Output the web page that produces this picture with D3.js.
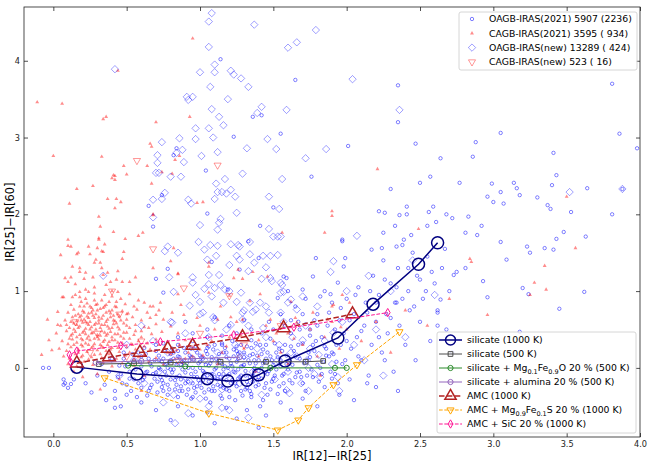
<!DOCTYPE html>
<html>
<head>
<meta charset="utf-8">
<script src="https://cdn.jsdelivr.net/npm/d3@7"></script>
<style>
body { margin: 0; background: #fff; }
text { font-family: "DejaVu Sans", sans-serif; }
</style>
</head>
<body>
<div id="chart"></div>
<script>
// tick values
const xTicks = [0, 0.5, 1, 1.5, 2, 2.5, 3, 3.5, 4];
const yTicks = [0, 1, 2, 3, 4];

const oagbOld = [
  [-0.03,0.0],[-0.07,0.0],[0.07,-0.15],[0.12,-0.21],[0.07,-0.22],[0.08,-0.2],[0.1,-0.26],[0.14,-0.15],[0.2,0.0],[0.22,-0.2],[0.26,-0.32],[0.3,-0.1],[0.33,0.05],[0.35,-0.22],[0.36,-0.42],[0.38,-0.05],[0.4,0.12],[0.42,-0.3],[0.42,-0.4],[0.42,-0.52],[0.44,-0.12],[0.45,0.03],[0.46,-0.5],[0.47,-0.2],[0.48,0.2],[0.5,-0.35],
  [0.52,-0.05],[0.55,0.1],[0.58,-0.2],[0.6,0.02],[0.62,-0.12],[0.63,0.18],[0.65,-0.3],[0.66,0.06],[0.68,-0.08],[0.7,0.22],[0.71,-0.18],[0.72,0.0],[0.74,-0.25],[0.75,0.12],[0.76,-0.05],[0.78,-0.35],[0.79,0.08],[0.8,-0.15],[0.81,0.25],[0.82,-0.02],[0.84,-0.22],[0.85,0.15],[0.86,-0.1],[0.87,0.04],[0.88,-0.3],[0.9,0.2],[0.9,-0.06],[0.92,-0.18],[0.93,0.1],[0.94,-0.4],[0.95,0.0],[0.96,-0.26],[0.97,0.28],[0.98,-0.12],[0.99,0.06],
  [1.0,-0.2],[1.01,0.14],[1.02,-0.04],[1.03,-0.32],[1.04,0.22],[1.05,-0.1],[1.06,0.03],[1.07,-0.45],[1.08,0.1],[1.09,-0.24],[1.1,0.3],[1.1,-0.02],[1.12,-0.15],[1.13,0.18],[1.14,-0.36],[1.15,0.05],[1.16,-0.08],[1.17,0.26],[1.18,-0.28],[1.19,0.0],[1.2,0.12],[1.21,-0.2],[1.22,0.35],[1.23,-0.05],[1.24,-0.42],[1.25,0.08],[1.26,-0.14],[1.27,0.2],[1.28,-0.3],[1.29,0.02],[1.3,0.14],[1.31,-0.1],[1.32,0.28],[1.33,-0.22],[1.34,0.06],[1.35,-0.38],[1.36,0.18],[1.37,-0.04],[1.38,0.32],[1.39,-0.16],[1.4,0.1],[1.41,-0.5],[1.42,0.0],[1.43,0.24],[1.44,-0.26],[1.45,0.12],[1.46,-0.08],[1.48,0.38],[1.49,-0.18],[1.5,0.04],[1.52,0.2],[1.53,-0.34],[1.55,0.1],[1.56,-0.1],[1.58,0.3],[1.6,-0.02],
  [0.55,-0.15],[0.6,0.15],[0.64,-0.05],[0.67,-0.22],[0.69,0.1],[0.73,-0.12],[0.77,0.05],[0.8,0.18],[0.83,-0.28],[0.87,-0.15],[0.89,0.1],[0.91,-0.35],[0.94,0.25],[0.97,-0.05],[1.0,0.08],[1.03,-0.12],[1.06,0.28],[1.08,-0.3],[1.11,0.12],[1.13,-0.08],[1.16,0.2],[1.18,-0.16],[1.2,-0.38],[1.23,0.15],[1.26,-0.02],[1.28,0.3],[1.31,-0.28],[1.34,-0.12],[1.37,0.1],[1.4,-0.22],[1.43,0.06],[1.46,-0.35],[1.48,0.15],[1.51,-0.1],[1.54,0.25],[1.57,-0.2],[1.59,0.05],[1.62,0.28],[1.65,-0.12],[1.68,0.12],[1.7,-0.2],[1.74,0.2],[1.76,-0.02],[1.79,0.35],[1.81,-0.18],[1.84,0.08],[1.86,0.25],[1.89,-0.05],[1.91,0.18],[1.94,-0.2],[1.96,0.3],[1.99,0.1],[0.75,0.32],[0.85,0.3],[0.95,0.35],[1.05,0.4],[1.15,0.32],[1.25,0.28],[1.35,0.36],[1.45,0.3],
  [0.46,-0.08],[0.48,0.12],[0.5,-0.22],[0.51,0.05],[0.53,-0.3],[0.54,0.18],[0.56,-0.02],[0.57,-0.38],[0.59,0.08],[0.61,-0.16],[0.62,0.26],[0.63,-0.06],[0.65,0.12],[0.66,-0.26],[0.67,0.02],[0.69,-0.14],[0.7,0.3],[0.71,-0.32],[0.72,0.16],[0.73,-0.02],[0.74,0.08],[0.75,-0.2],[0.76,0.22],[0.77,-0.1],[0.78,0.0],[0.79,-0.28],[0.8,0.1],[0.81,-0.06],[0.82,0.2],[0.83,-0.16],[0.84,0.04],[0.85,-0.38],[0.86,0.14],[0.87,-0.24],[0.88,-0.02],[0.89,0.26],[0.9,-0.14],[0.91,0.06],[0.92,-0.28],[0.93,0.16],[0.94,-0.08],[0.95,-0.2],[0.96,0.1],[0.97,-0.32],[0.98,0.2],[0.99,-0.16],[1.0,0.0],[1.01,-0.26],[1.02,0.12],[1.03,-0.06],[1.04,-0.4],[1.05,0.18],[1.06,-0.18],[1.07,0.06],[1.08,-0.08],[1.09,0.24],[1.1,-0.3],[1.11,0.0],[1.12,-0.22],[1.13,0.1],[1.14,-0.12],[1.15,0.3],[1.16,-0.26],[1.17,0.02],[1.18,0.14],[1.19,-0.1],[1.2,-0.3],[1.21,0.06],[1.22,-0.16],[1.23,0.24],[1.24,-0.06],[1.25,-0.24],[1.26,0.12],[1.27,-0.12],[1.28,0.02],[1.29,-0.36],[1.3,0.2],[1.31,-0.04],[1.32,-0.18],[1.33,0.1],[1.34,-0.3],[1.35,0.26],[1.36,-0.1],[1.37,0.0],[1.38,-0.24],[1.39,0.16],[1.4,-0.04],[1.41,0.3],[1.42,-0.14],[1.43,-0.42],[1.44,0.08],[1.45,-0.2],[1.46,0.2],[1.47,-0.04],[1.48,-0.28],[1.49,0.1],[1.5,-0.14],[1.51,0.32],[1.52,-0.02],[1.53,0.14],[1.54,-0.24],[1.55,0.02],[1.56,0.22],[1.57,-0.08],[1.58,-0.3],[1.59,0.16],[1.6,0.08],[1.61,-0.16],[1.63,0.04],[1.64,0.22],[1.66,-0.06],[1.67,0.3],[1.69,-0.12],[1.71,0.06],[1.73,-0.1],[1.75,0.14],[1.77,0.3],[1.8,0.04],[1.83,-0.08],[1.86,0.16],[1.9,-0.14],[1.93,0.08],
  [0.7,-0.06],[0.72,0.1],[0.74,-0.16],[0.76,0.04],[0.78,-0.22],[0.8,-0.02],[0.82,0.12],[0.84,-0.12],[0.86,-0.3],[0.88,0.08],[0.9,-0.2],[0.92,0.0],[0.94,0.14],[0.96,-0.12],[0.98,-0.24],[1.0,0.16],[1.02,-0.16],[1.04,0.04],[1.06,-0.28],[1.08,0.14],[1.1,-0.12],[1.12,0.06],[1.14,-0.24],[1.16,-0.02],[1.18,0.2],[1.2,-0.08],[1.22,0.02],[1.24,-0.2],[1.26,0.18],[1.28,-0.1],[1.3,0.04],[1.32,-0.26],[1.34,0.16],[1.36,-0.18],[1.38,0.06],[1.4,-0.12],[1.42,0.18],[1.44,-0.06],[0.75,-0.3],[0.85,0.22],[0.95,-0.38],[1.05,0.26],[1.15,-0.4],[1.25,0.22],[1.35,-0.34],[0.64,-0.36],[0.58,0.2],[0.6,-0.26],[0.52,-0.14],[0.49,0.02],
  [1.62,0.45],[1.63,-0.2],[1.65,0.15],[1.67,0.6],[1.68,-0.05],[1.7,0.32],[1.72,-0.3],[1.73,0.1],[1.75,0.5],[1.77,-0.12],[1.78,0.22],[1.8,0.7],[1.82,0.0],[1.83,0.4],[1.85,-0.25],[1.87,0.55],[1.88,0.15],[1.9,0.85],[1.92,-0.08],[1.93,0.3],[1.95,0.62],[1.97,0.05],[1.98,0.45],[2.0,0.9],[2.02,-0.15],[2.03,0.25],[2.05,0.7],[2.07,0.4],[2.08,1.05],[2.1,0.1],[2.12,0.55],[2.13,0.85],[2.15,-0.1],[2.17,0.3],[2.18,1.2],[2.2,0.6],
  [2.22,0.95],[2.24,0.2],[2.25,1.4],[2.27,0.7],[2.28,0.45],[2.3,1.1],[2.32,-0.05],[2.33,0.85],[2.35,1.3],[2.36,0.55],[2.38,1.6],[2.4,0.3],[2.42,1.0],[2.43,0.75],[2.45,1.5],[2.47,0.1],[2.48,1.2],[2.5,0.6],[2.52,0.9],[2.55,1.45],[2.57,0.35],[2.6,1.1],[2.62,0.75],[2.65,1.3],[2.68,0.5],[2.7,1.0],[2.72,0.2],[2.75,1.25],
  [1.75,0.42],[1.8,0.55],[1.85,0.28],[1.88,0.72],[1.92,0.5],[1.96,0.78],[2.0,0.35],[2.02,0.62],[2.06,0.95],[2.1,0.48],[2.14,0.72],[2.16,1.0],[2.2,0.85],[2.22,0.4],[2.26,1.15],[2.3,0.65],[2.34,1.05],[2.38,0.9],[2.42,1.3],[2.46,0.8],[2.5,1.15],[2.54,1.0],[2.58,1.25],[2.62,0.55],[1.7,0.7],[1.68,0.5],[1.62,0.62],[1.9,0.2],[2.08,0.15],[2.26,0.1],
  [1.42,0.45],[1.47,0.6],[1.5,0.5],[1.55,0.7],[1.58,0.55],[1.35,0.5],[1.3,0.62],[1.25,0.45],[1.2,0.55],[1.15,0.42],[1.1,0.66],[1.05,0.5],[0.95,0.45],[0.9,0.6],[0.85,0.4],[1.65,0.8],[1.72,0.9],[1.78,0.62],[1.85,1.0],[1.6,1.0],
  [0.6,-0.45],[0.7,-0.55],[0.85,-0.5],[0.95,-0.62],[1.05,-0.58],[1.18,-0.52],[1.25,-0.66],[1.32,-0.55],[1.45,-0.62],[1.55,-0.45],[1.62,-0.55],[1.7,-0.4],[1.8,-0.5],[1.95,-0.35],[2.05,-0.42],[2.2,-0.25],[2.35,-0.3],[1.4,-0.78],[1.1,-0.72],[0.8,-0.68],
  [2.35,3.68],[2.35,3.2],[3.05,3.06],[3.81,3.7],[3.86,3.05],[3.98,2.86],[2.01,2.89],[2.47,2.92],[2.88,2.94],[2.86,2.75],[2.64,2.73],[3.41,2.8],[2.57,2.49],[2.5,2.41],[2.77,2.41],[2.99,2.4],[3.14,2.41],[3.16,2.34],[3.4,2.38],[3.43,2.51],[3.64,2.34],[2.3,2.33],[2.96,2.23],[3.05,2.29],[3.0,2.16],[3.07,2.14],[3.18,2.25],[3.3,2.22],[3.37,2.12],[3.39,2.07],[3.53,2.03],[3.81,2.0],[3.88,2.33],[2.22,2.04],[2.26,2.02],[2.41,2.1],[2.36,1.99],[2.41,2.0],[2.56,2.03],[2.59,2.1],[2.68,2.0],[2.72,1.95],[2.83,1.97],[2.61,1.9],[2.33,1.85],[2.55,1.85],[2.92,1.85],[2.81,1.76],[2.89,1.73],[2.25,1.76],[2.44,1.73],[2.39,1.67],[1.97,1.65],[2.17,1.54],[2.24,1.56],[2.34,1.58],[2.67,1.55],[3.05,1.64],[3.23,1.58],[3.25,1.5],[3.35,1.56],[3.41,1.54],[3.43,1.68],[3.48,1.77],[3.63,1.71],[3.09,1.41],[2.81,1.3],[2.73,1.21],[2.93,1.13],[3.2,1.04],[3.24,0.96],[3.62,0.99],[2.96,0.92],[3.45,0.77],[2.62,0.72],[3.18,0.47],
  [1.14,4.02],[1.65,3.75],[1.23,3.01],[1.36,3.27],[1.42,3.29],[1.55,3.05],[1.76,2.49],[1.04,2.57],[0.84,2.86],[0.82,2.77],[1.05,2.01],[1.5,2.09],[0.65,2.11],[0.74,2.25],[0.68,1.84],[1.41,1.85],[1.97,1.67],[1.33,1.65],[0.7,1.16],[0.78,1.29],[1.08,1.38],[1.4,1.43],[1.79,1.43],[1.99,1.43],[1.98,1.32],[1.27,1.28],[1.57,1.19],[1.59,1.17],[1.77,1.19],[1.94,1.11],[1.19,1.02],[1.53,0.91],[1.7,1.02],[1.82,0.93],[1.89,0.96],[0.75,0.98],[2.14,-0.2],[2.34,0.85],[2.64,0.89]
];

const cagbOld = [
  [0.15,0.95],[0.22,0.9],[0.28,0.97],[0.33,0.88],[0.4,0.93],[0.46,0.9],[0.52,0.96],[0.58,0.88],[0.19,0.86],
  [0.12,0.82],[0.18,0.8],[0.23,0.84],[0.26,0.78],[0.3,0.83],[0.35,0.8],[0.38,0.86],[0.43,0.79],[0.49,0.83],[0.55,0.8],[0.62,0.85],[0.68,0.8],
  [0.1,0.72],[0.14,0.76],[0.17,0.7],[0.2,0.74],[0.24,0.71],[0.27,0.75],[0.29,0.7],[0.32,0.77],[0.36,0.72],[0.4,0.75],[0.44,0.7],[0.47,0.74],[0.51,0.71],[0.57,0.76],[0.64,0.72],[0.72,0.75],
  [0.08,0.62],[0.13,0.66],[0.16,0.61],[0.19,0.68],[0.21,0.63],[0.23,0.67],[0.25,0.6],[0.28,0.65],[0.31,0.62],[0.34,0.68],[0.37,0.63],[0.39,0.66],[0.42,0.61],[0.45,0.67],[0.5,0.63],[0.54,0.66],[0.6,0.62],[0.66,0.65],[0.75,0.63],
  [0.05,0.55],[0.11,0.52],[0.14,0.58],[0.18,0.54],[0.2,0.59],[0.22,0.51],[0.24,0.56],[0.26,0.53],[0.29,0.58],[0.32,0.52],[0.35,0.56],[0.38,0.51],[0.41,0.57],[0.44,0.53],[0.48,0.58],[0.52,0.52],[0.56,0.56],[0.62,0.53],[0.7,0.57],[0.8,0.54],
  [0.02,0.45],[0.09,0.48],[0.12,0.42],[0.15,0.47],[0.18,0.43],[0.21,0.48],[0.24,0.41],[0.27,0.46],[0.3,0.43],[0.33,0.48],[0.36,0.42],[0.39,0.47],[0.42,0.44],[0.46,0.41],[0.5,0.46],[0.55,0.43],[0.6,0.48],[0.67,0.44],[0.74,0.47],[0.85,0.45],
  [0.06,0.35],[0.1,0.31],[0.13,0.37],[0.16,0.33],[0.19,0.38],[0.22,0.32],[0.25,0.36],[0.28,0.31],[0.31,0.37],[0.34,0.34],[0.37,0.3],[0.4,0.36],[0.44,0.33],[0.48,0.38],[0.53,0.31],[0.58,0.35],[0.64,0.32],[0.7,0.37],[0.78,0.34],[0.9,0.36],
  [0.04,0.25],[0.09,0.22],[0.12,0.27],[0.17,0.24],[0.2,0.28],[0.23,0.21],[0.26,0.26],[0.3,0.23],[0.33,0.28],[0.36,0.22],[0.4,0.26],[0.45,0.21],[0.5,0.27],[0.56,0.24],[0.62,0.28],[0.69,0.22],[0.76,0.26],[0.84,0.23],[0.95,0.27],
  [0.07,0.15],[0.11,0.12],[0.15,0.18],[0.19,0.14],[0.24,0.11],[0.28,0.17],[0.33,0.13],[0.38,0.18],[0.43,0.12],[0.49,0.16],[0.55,0.11],[0.62,0.17],[0.7,0.13],[0.8,0.18],[0.9,0.12],[1.02,0.16],
  [0.1,0.05],[0.16,0.02],[0.21,0.08],[0.27,0.04],[0.34,0.07],[0.4,0.02],[0.47,0.06],[0.55,0.03],[0.65,0.08],[0.75,0.04],[0.88,0.07],
  [0.14,-0.05],[0.2,-0.12],[0.3,-0.08],[0.45,-0.15],[0.62,-0.1],[0.32,-0.28],[0.6,-0.3],
  [0.17,0.52],[0.19,0.62],[0.21,0.72],[0.23,0.58],[0.25,0.8],[0.26,0.45],[0.27,0.68],[0.29,0.5],[0.3,0.75],[0.31,0.58],[0.33,0.64],[0.35,0.46],[0.36,0.82],[0.37,0.54],[0.39,0.71],[0.4,0.4],[0.41,0.62],[0.43,0.86],[0.45,0.5],[0.47,0.32],[0.2,0.36],[0.22,0.44],[0.24,0.3],[0.28,0.38],[0.32,0.42],[0.34,0.26],[0.38,0.34],[0.16,0.4],[0.14,0.5],[0.12,0.6],[0.18,0.92],[0.22,1.02],[0.28,0.88],[0.35,0.95],[0.42,0.8],[0.5,0.55],[0.52,0.38],[0.56,0.48],[0.6,0.4],[0.65,0.52],
  [0.16,0.56],[0.18,0.66],[0.2,0.46],[0.21,0.8],[0.22,0.6],[0.23,0.38],[0.24,0.65],[0.25,0.5],[0.26,0.72],[0.27,0.28],[0.28,0.56],[0.29,0.82],[0.3,0.4],[0.31,0.66],[0.32,0.3],[0.33,0.56],[0.34,0.78],[0.35,0.36],[0.36,0.6],[0.37,0.44],[0.38,0.74],[0.39,0.24],[0.4,0.52],[0.41,0.68],[0.42,0.36],[0.43,0.58],[0.44,0.44],[0.46,0.62],[0.48,0.46],[0.5,0.7],[0.13,0.44],[0.14,0.3],[0.15,0.68],[0.17,0.2],[0.19,0.3],[0.11,0.38],[0.09,0.56],[0.2,0.16],[0.26,0.14],[0.32,0.18],[0.38,0.1],[0.44,0.26],[0.52,0.2],[0.58,0.14],[0.54,0.3],[0.66,0.24],[0.72,0.3],[0.78,0.2],[0.86,0.3],[0.92,0.2],[1.0,0.24],[1.08,0.35],[1.18,0.28],[1.28,0.42],[1.4,0.36],[1.52,0.45],[1.64,0.38],[1.76,0.58],[0.28,1.05],[0.36,1.08],
  [1.05,0.3],[1.1,0.5],[1.15,0.2],[1.2,0.4],[1.25,0.6],[1.3,0.25],[1.35,0.45],[1.4,0.15],[1.45,0.55],[1.5,0.35],[1.55,0.2],[1.6,0.45],[1.65,0.65],[1.7,0.3],[1.75,0.5],[1.8,0.15],[1.85,0.4],[1.9,0.6],[1.95,0.25],[2.0,0.5],[2.1,0.35],[2.2,0.6],[1.0,0.55],[0.95,0.15],[1.12,0.05],[1.38,-0.05],[1.6,0.05],[1.82,-0.1],[2.3,0.2],[2.4,0.75],[2.55,0.55],[2.7,0.9],
  [-0.11,3.46],[0.06,3.44],[0.0,2.76],[0.16,2.33],[0.11,2.14],[0.27,2.37],[0.33,2.75],[0.34,3.24],[0.36,3.27],[0.41,2.51],[0.42,2.45],[0.31,1.97],[0.32,1.84],[0.1,1.67],[0.12,1.58],[0.05,1.47],[0.17,1.5],[0.24,1.58],[0.18,1.25],[0.29,1.41],[0.32,1.37],[0.34,1.51],[0.31,1.67],[0.37,1.24],[0.27,1.18],[0.13,1.32],[0.08,1.17],[0.06,0.92],[0.03,0.73],[-0.04,0.63],[-0.01,0.23],[-0.08,0.17],[-0.03,0.36],[0.03,0.56],
  [0.48,2.63],[0.5,2.52],[0.4,2.47],[0.42,2.5],[0.37,2.2],[0.43,2.2],[0.46,2.16],[0.42,2.08],[0.41,1.77],[0.58,1.72],[0.61,1.76],[0.31,1.69],[0.49,1.68],[0.66,2.92],[0.67,2.88],[0.64,2.63],[0.7,3.2],[0.93,3.27],[0.83,2.71],[0.86,2.76],[0.67,2.4],[0.74,2.55],[0.81,2.53],[0.98,2.15],[1.02,2.16],[0.68,2.0],[0.68,1.3],[0.8,1.39],[0.85,1.23],[1.06,1.37],[1.06,1.32],[1.26,1.28],[1.23,1.17],[1.29,1.16],[1.06,0.98],[1.2,0.94],[0.95,4.29],[0.44,3.87],
  [0.1,1.59],[0.16,1.48],[0.18,1.3],[0.25,1.48],[0.28,1.37],[0.3,1.56],[0.33,1.52],[0.35,1.61],[0.48,1.51],[0.47,1.42],[0.44,1.26],[0.33,1.3],[0.22,1.24],[0.12,1.18],[0.1,1.12],[0.15,1.09],[0.21,1.16],[0.34,1.21],[0.39,1.12],[0.43,1.15],[0.47,1.12],[0.52,1.12],[0.56,1.18],[0.4,1.0],[0.44,0.99],[0.24,0.99],[0.18,0.99],[0.13,0.92],[0.07,0.92],
  [2.21,2.59],[1.9,2.04],[1.9,1.98],[1.85,1.76],[2.49,1.81],[2.84,1.42],[2.85,1.38],[3.56,1.56],[3.5,2.23],[3.35,1.33],[3.28,1.11],[3.36,1.02],[3.25,0.95],[2.96,0.69],[1.97,0.95],[1.91,0.82],
  [0.68,1.99],[0.82,1.56],[0.85,1.22],[1.56,1.76],[1.46,1.19],[1.36,1.25],[0.85,0.96],[0.66,0.8],[0.73,0.85],[0.87,0.82],[1.14,0.8],[1.34,0.87],[1.41,0.96],[1.62,0.86],[1.77,0.72],[1.9,0.8],[2.02,0.85],[0.7,0.69],[0.81,0.72],[0.89,0.69],[0.98,0.65],[1.12,0.63],[1.21,0.66],[1.29,0.63],[1.48,0.63],[1.66,0.59],[1.87,0.63],[1.96,0.53]
];

const oagbNew = [
  [1.08,4.62],[1.06,4.51],[1.37,4.47],[1.79,4.4],[1.06,4.18],[1.6,4.17],[1.66,4.24],[0.42,3.89],[1.1,3.95],[1.1,3.85],[1.0,3.85],[1.21,3.87],[1.23,3.82],[1.28,3.77],[1.33,3.66],[1.07,3.66],[0.91,3.53],[0.92,3.49],[0.95,3.53],[1.19,3.5],[1.08,3.37],[1.42,3.4],[1.39,3.32],[1.59,3.36],[1.13,3.27],[1.16,3.16],[0.97,3.12],[1.06,3.12],[0.86,2.99],[0.97,2.98],[1.09,3.0],[0.74,2.94],[1.46,2.98],[1.32,2.86],[1.52,2.85],[1.12,2.81],[0.88,2.84],[0.84,2.8],[0.71,2.77],[1.01,2.76],[0.89,2.68],[0.71,2.67],[1.86,2.85],[1.72,2.73],[0.7,2.54],[0.72,2.54],[0.8,2.49],[0.87,2.49],[1.29,2.53],[1.17,2.46],[1.56,2.46],[1.11,2.4],[1.21,2.32],[1.15,2.29],[1.12,2.29],[1.18,2.27],[1.24,2.23],[0.76,2.28],[0.68,2.19],[0.74,2.2],[1.1,2.2],[0.92,2.19],[0.94,2.14],[1.47,2.23],[1.54,2.07],[1.25,2.02],[0.68,1.96],[1.14,1.94],
  [1.13,1.89],[1.12,1.8],[1.0,1.86],[0.99,1.64],[1.07,1.6],[1.12,1.59],[1.21,1.61],[1.27,1.58],[1.34,1.64],[0.78,1.58],[0.76,1.52],[0.85,1.5],[1.03,1.54],[1.11,1.46],[1.25,1.46],[1.27,1.41],[1.37,1.37],[1.2,1.34],[1.05,1.41],[0.79,1.18],[0.95,1.18],[1.06,1.21],[1.13,1.21],[1.33,1.26],[0.95,1.11],[1.03,1.03],[1.06,1.09],[1.14,1.08],[1.17,1.02],[1.2,1.0],[1.28,0.98],[0.34,1.2],[0.82,0.99],[0.97,0.95],
  [1.47,1.81],[1.5,1.71],[1.53,1.71],[1.55,1.71],[2.07,1.72],[1.34,1.48],[1.43,1.46],[1.48,1.46],[1.45,1.31],[1.91,1.39],[1.89,1.25],[1.42,1.16],[1.49,1.13],[1.56,1.08],[1.57,0.99],[1.7,0.93],[1.41,0.85],[1.08,0.93],[1.1,1.04],[1.0,0.86],[1.16,0.85],[1.25,0.86],[0.93,0.81],[1.29,0.72],[1.36,0.73],[1.47,0.72],[1.55,0.72],[1.66,0.76],[0.81,0.59],[1.02,0.72],[1.09,0.66],[1.21,0.56],
  [0.83,-0.72],[0.92,-0.59],[1.06,-0.5],[1.15,-0.52],[1.33,-0.65],[1.61,-0.33],[1.74,-0.3],[1.82,-0.12],[1.94,-0.12],[1.62,0.89],[1.55,1.11],[1.55,0.98],[1.48,1.17],[1.53,1.47],[1.26,1.6],[1.34,0.85],[1.38,0.76],[1.29,0.63],[1.43,0.52],[1.62,0.2],[1.53,0.1],[1.73,0.1],[1.81,0.17],[1.7,0.36],[1.91,0.46],[1.59,-0.29],[1.74,0.0],
  [2.36,3.36],[2.04,3.76],[3.52,2.29],[3.88,2.33],
  [0.55,0.1],[0.62,-0.2],[0.68,0.35],[0.72,-0.05],[0.78,0.2],[0.82,-0.35],[0.86,0.05],[0.9,0.45],[0.93,-0.18],[0.97,0.25],[1.0,-0.4],[1.03,0.1],[1.06,0.4],[1.09,-0.1],[1.12,0.2],[1.15,-0.28],[1.18,0.5],[1.21,0.0],[1.24,0.3],[1.27,-0.2],[1.3,0.15],[1.33,0.55],[1.36,-0.05],[1.39,0.25],[1.42,-0.35],[1.45,0.4],[1.48,0.05],[1.51,-0.15],[1.54,0.3],[1.57,0.6],[1.6,-0.05],[1.63,0.4],[1.66,0.15],[1.69,-0.2],[1.72,0.55],[1.75,0.25],[1.78,-0.08],[1.85,0.35],[1.9,0.05],[1.97,0.6],[2.05,0.3],[2.12,0.1],[2.2,0.5],[0.45,-0.1],[0.5,0.3],[0.4,0.12],[0.75,-0.45],[1.2,-0.55],[0.6,0.55],[0.8,0.6],[1.0,0.7],[1.1,0.62],[1.3,0.75],[1.45,0.8],[1.6,0.85],[1.8,0.8],[2.0,1.0],[2.15,1.2],[2.3,1.0],[2.45,1.4],[2.6,0.95],[2.4,0.4],[2.25,-0.1],[1.95,-0.3]
];

const cagbNew = [
  [0.57,2.7],[1.12,2.64],[0.68,1.55],[0.89,1.04],[1.2,0.94],[0.3,0.45],[0.45,0.7],[0.25,0.2],
  [0.6,0.35],[0.85,0.1],[1.0,0.45],[1.3,0.3],[0.15,0.6],[0.5,0.15],[1.55,0.55],[0.4,1.0]
];

// model tracks
const sil1000 = [[0.16,0.01],[0.57,-0.08],[1.05,-0.14],[1.19,-0.17],[1.32,-0.16],[1.40,-0.09],[1.58,0.09],[1.94,0.39],[2.18,0.83],[2.49,1.35],[2.62,1.63]];
const sil500 = [[0.31,0.05],[0.55,0.06],[0.8,0.07],[1.14,0.08],[1.45,0.08],[1.72,0.08],[1.84,0.09]];
const silMgFeO = [[0.51,0.03],[0.9,0.02],[1.48,0.0],[1.92,0.0],[2.0,0.0]];
const silAlumina = [[0.29,0.07],[0.6,0.09],[0.95,0.12],[1.27,0.14]];
const amc1000 = [[0.16,0.06],[0.38,0.14],[0.59,0.2],[0.78,0.25],[0.95,0.29],[1.29,0.4],[1.57,0.52],[2.04,0.7]];
const amcMgFeS = [[0.35,-0.13],[1.06,-0.59],[1.53,-0.81],[1.67,-0.68],[1.74,-0.52],[1.91,-0.22],[2.07,0.04],[2.36,0.47]];
const amcSiC = [[0.12,0.07],[0.11,0.17],[0.16,0.22],[0.46,0.29],[0.73,0.34],[1.23,0.43],[1.64,0.53],[2.28,0.72]];

const obsNames = ["OAGB-IRAS(2021) 5907 (2236)", "CAGB-IRAS(2021) 3595 ( 934)", "OAGB-IRAS(new) 13289 ( 424)", "CAGB-IRAS(new) 523 ( 16)"];

const width = 654, height = 463;
const plot = { left: 24, right: 640, top: 7, bottom: 437 };

const x = d3.scaleLinear().domain([-0.2, 4.0]).range([plot.left, plot.right]);
const y = d3.scaleLinear().domain([-0.9, 4.7]).range([plot.bottom, plot.top]);

const svg = d3.select("#chart").append("svg")
    .attr("width", width)
    .attr("height", height);

svg.append("clipPath").attr("id", "clip")
    .append("rect")
    .attr("x", plot.left).attr("y", plot.top)
    .attr("width", plot.right - plot.left).attr("height", plot.bottom - plot.top);

const sym = (type, size) => d3.symbol().type(type).size(size)();

// marker drawing helper for the observed samples
function marker(g, kind, cx, cy) {
    if (kind === "o") {
        return g.append("circle").attr("cx", cx).attr("cy", cy).attr("r", 1.7)
            .attr("fill", "none").attr("stroke", "blue").attr("stroke-opacity", 0.55).attr("stroke-width", 0.9);
    }
    if (kind === "^") {
        return g.append("path").attr("d", sym(d3.symbolTriangle, 6.5))
            .attr("transform", `translate(${cx},${cy})`)
            .attr("fill", "red").attr("fill-opacity", 0.45);
    }
    if (kind === "D") {
        return g.append("path").attr("d", sym(d3.symbolSquare, 27))
            .attr("transform", `translate(${cx},${cy}) rotate(45)`)
            .attr("fill", "none").attr("stroke", "blue").attr("stroke-opacity", 0.4).attr("stroke-width", 0.9);
    }
    if (kind === "v") {
        return g.append("path").attr("d", sym(d3.symbolTriangle, 22))
            .attr("transform", `translate(${cx},${cy}) rotate(180)`)
            .attr("fill", "none").attr("stroke", "red").attr("stroke-opacity", 0.45).attr("stroke-width", 0.9);
    }
}

const pts = svg.append("g").attr("clip-path", "url(#clip)");

const gO = pts.append("g");
oagbOld.forEach(d => marker(gO, "o", x(d[0]), y(d[1])));
const gC = pts.append("g");
cagbOld.forEach(d => marker(gC, "^", x(d[0]), y(d[1])));
const gN = pts.append("g");
oagbNew.forEach(d => marker(gN, "D", x(d[0]), y(d[1])));
const gV = pts.append("g");
cagbNew.forEach(d => marker(gV, "v", x(d[0]), y(d[1])));

// model tracks styling
const models = [
    { data: sil1000, color: "#000080", width: 1.5, dash: null, shape: "circle", r: 6, sw: 1.5,
      label: [["silicate (1000 K)"]] },
    { data: sil500, color: "#4d4d4d", width: 1, dash: null, shape: "square", size: 22, sw: 1,
      label: [["silicate (500 K)"]] },
    { data: silMgFeO, color: "#2a8a2a", width: 1, dash: null, shape: "circle", r: 2.6, sw: 1,
      label: [["silicate + Mg"], ["0.1", 1], ["Fe"], ["0.9", 1], ["O 20 % (500 K)"]] },
    { data: silAlumina, color: "#9467bd", width: 1, dash: null, shape: "circle", r: 2.6, sw: 1,
      label: [["silicate + alumina 20 % (500 K)"]] },
    { data: amc1000, color: "#b22222", width: 1.5, dash: "5.5,2.4", shape: "triangle", size: 70, sw: 1.5,
      label: [["AMC (1000 K)"]] },
    { data: amcMgFeS, color: "orange", width: 1, dash: "3.7,1.6", shape: "tridown", size: 22, sw: 1,
      label: [["AMC + Mg"], ["0.9", 1], ["Fe"], ["0.1", 1], ["S 20 % (1000 K)"]] },
    { data: amcSiC, color: "#ff1493", width: 1, dash: "3.7,1.6", shape: "thin", size: 20, sw: 1,
      label: [["AMC + SiC 20 % (1000 K)"]] }
];

function modelMarker(g, m, cx, cy) {
    let el;
    if (m.shape === "circle") {
        el = g.append("circle").attr("cx", cx).attr("cy", cy).attr("r", m.r);
    } else if (m.shape === "square") {
        el = g.append("path").attr("d", sym(d3.symbolSquare, m.size)).attr("transform", `translate(${cx},${cy})`);
    } else if (m.shape === "triangle") {
        el = g.append("path").attr("d", sym(d3.symbolTriangle, m.size)).attr("transform", `translate(${cx},${cy})`);
    } else if (m.shape === "tridown") {
        el = g.append("path").attr("d", sym(d3.symbolTriangle, m.size)).attr("transform", `translate(${cx},${cy}) rotate(180)`);
    } else {
        el = g.append("path").attr("d", sym(d3.symbolDiamond, m.size)).attr("transform", `translate(${cx},${cy})`);
    }
    el.attr("fill", "none").attr("stroke", m.color).attr("stroke-width", m.sw);
    return el;
}

const line = d3.line().x(d => x(d[0])).y(d => y(d[1]));
const mg = svg.append("g").attr("clip-path", "url(#clip)");
models.forEach(m => {
    const g = mg.append("g");
    g.append("path").datum(m.data)
        .attr("d", line)
        .attr("fill", "none")
        .attr("stroke", m.color)
        .attr("stroke-width", m.width)
        .attr("stroke-dasharray", m.dash);
    m.data.forEach(d => modelMarker(g, m, x(d[0]), y(d[1])));
});

// axes, ticks pointing inward on all four sides
const axB = svg.append("g").attr("transform", `translate(0,${plot.bottom})`)
    .call(d3.axisBottom(x).tickValues(xTicks).tickSize(-4).tickPadding(4).tickFormat(d3.format(".1f")));
const axL = svg.append("g").attr("transform", `translate(${plot.left},0)`)
    .call(d3.axisLeft(y).tickValues(yTicks).tickSize(-4).tickPadding(4).tickFormat(d3.format("d")));
const axT = svg.append("g").attr("transform", `translate(0,${plot.top})`)
    .call(d3.axisTop(x).tickValues(xTicks).tickSize(-4).tickFormat(""));
const axR = svg.append("g").attr("transform", `translate(${plot.right},0)`)
    .call(d3.axisRight(y).tickValues(yTicks).tickSize(-4).tickFormat(""));
[axB, axL, axT, axR].forEach(a => {
    a.select(".domain").remove();
    a.selectAll("line").attr("stroke", "#222").attr("stroke-width", 0.8);
    a.selectAll("text").attr("fill", "#222").style("font-size", "8.2px").style("font-family", "DejaVu Sans");
});

svg.append("rect")
    .attr("x", plot.left).attr("y", plot.top)
    .attr("width", plot.right - plot.left).attr("height", plot.bottom - plot.top)
    .attr("fill", "none").attr("stroke", "#222").attr("stroke-width", 0.8);

svg.append("text")
    .attr("x", (plot.left + plot.right) / 2).attr("y", 460)
    .attr("text-anchor", "middle")
    .style("font-size", "11.4px")
    .text("IR[12]\u2212IR[25]");

svg.append("text")
    .attr("transform", `translate(14,${(plot.top + plot.bottom) / 2}) rotate(-90)`)
    .attr("text-anchor", "middle")
    .style("font-size", "11.4px")
    .text("IR[25]\u2212IR[60]");

// legend for the observed samples
const leg1 = svg.append("g");
leg1.append("rect").attr("x", 459).attr("y", 12).attr("width", 178).attr("height", 58).attr("rx", 2)
    .attr("fill", "white").attr("fill-opacity", 0.8).attr("stroke", "#ccc").attr("stroke-width", 0.8);
const obsKinds = ["o", "^", "D", "v"];
obsNames.forEach((name, i) => {
    const cy = 19 + i * 14.3;
    marker(leg1, obsKinds[i], 472, cy);
    leg1.append("text").attr("x", 489).attr("y", cy).attr("dy", "0.35em")
        .style("font-size", "9.3px").text(name);
});

// legend for model tracks
const leg2 = svg.append("g");
leg2.append("rect").attr("x", 437).attr("y", 332).attr("width", 199).attr("height", 101).attr("rx", 2)
    .attr("fill", "white").attr("fill-opacity", 0.8).attr("stroke", "#ccc").attr("stroke-width", 0.8);
models.forEach((m, i) => {
    const cy = 340 + i * 14;
    leg2.append("line").attr("x1", 439).attr("x2", 462).attr("y1", cy).attr("y2", cy)
        .attr("stroke", m.color).attr("stroke-width", m.width).attr("stroke-dasharray", m.dash);
    const mm = Object.assign({}, m);
    if (m.shape === "circle") mm.r = Math.min(m.r, 5);
    if (m.shape === "triangle") mm.size = 55;
    modelMarker(leg2, mm, 450.5, cy);
    const t = leg2.append("text").attr("x", 467).attr("y", cy + 3.3).style("font-size", "9.3px");
    let shifted = false;
    m.label.forEach(p => {
        const ts = t.append("tspan").text(p[0]);
        if (p[1]) {
            ts.attr("dy", 2.5).style("font-size", "6.5px");
            shifted = true;
        } else if (shifted) {
            ts.attr("dy", -2.5);
            shifted = false;
        }
    });
});
</script>
</body>
</html>
